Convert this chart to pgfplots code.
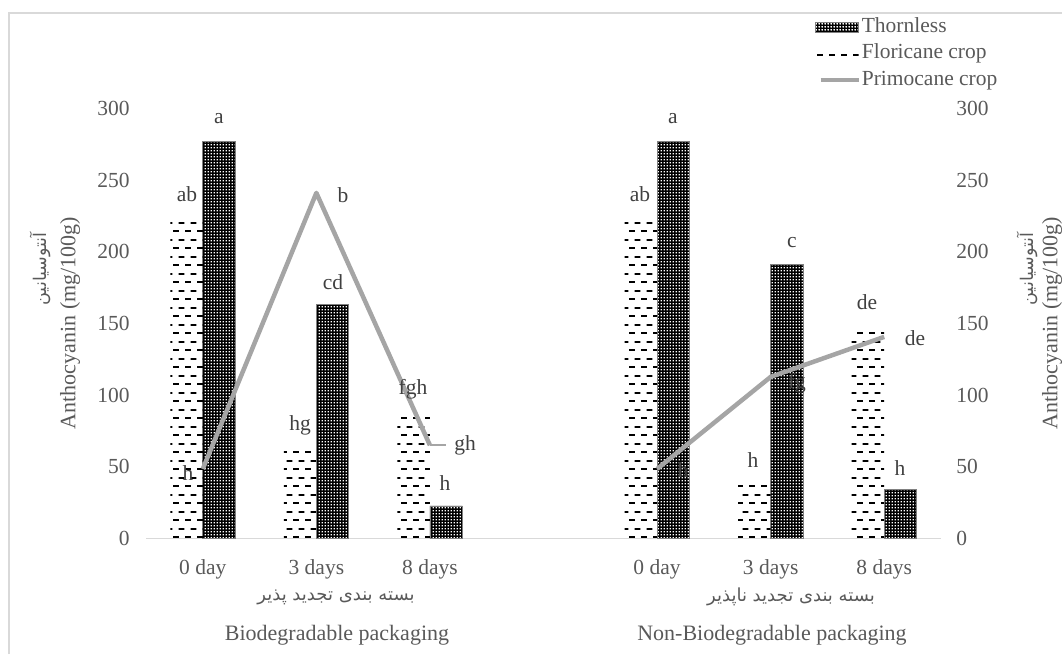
\documentclass[border=0pt]{standalone}
\usepackage{fontspec}
\setmainfont{Liberation Serif}
\newfontfamily\fa[Script=Arabic]{DejaVu Sans}
\usepackage{pgfplots}
\pgfplotsset{compat=1.18}
\usetikzlibrary{patterns}
\TeXXeTstate=1

\definecolor{txt}{HTML}{595959}
\definecolor{lbl}{HTML}{404040}
\definecolor{gridc}{HTML}{D9D9D9}
\definecolor{prim}{HTML}{A5A5A5}

\pgfdeclarepatternformonly{wdots}{\pgfqpoint{0pt}{0pt}}{\pgfqpoint{3.2pt}{3.2pt}}{\pgfqpoint{3.2pt}{3.2pt}}{%
  \pgfpathrectangle{\pgfqpoint{0.85pt}{0.85pt}}{\pgfqpoint{1.5pt}{1.5pt}}\pgfusepath{fill}}
\pgfdeclarepatternformonly{hdash}{\pgfqpoint{0pt}{0pt}}{\pgfqpoint{11.5pt}{16.6pt}}{\pgfqpoint{11.5pt}{16.6pt}}{%
  \pgfpathrectangle{\pgfqpoint{0pt}{0pt}}{\pgfqpoint{6pt}{1.8pt}}%
  \pgfpathrectangle{\pgfqpoint{5.75pt}{8.3pt}}{\pgfqpoint{6pt}{1.8pt}}\pgfusepath{fill}}

\pgfplotstableread{
x thornless floricane primocane
0 277   223   48.5
1 163   62.5  241
2 22.7  84.6  65
3 nan   nan   nan
4 277   223   48.5
5 191   40    112.7
6 34    146   140.6
}\datatable

\begin{document}
\begin{tikzpicture}[font=\fontsize{21.5}{25}\selectfont]
\path[use as bounding box] (0pt,0pt) rectangle (1062pt,654pt);
\draw[gridc, line width=1.5pt] (9pt,0pt) -- (9pt,641pt) -- (1062pt,641pt);

% right-hand tick labels
\begin{axis}[
  at={(146pt,115.5pt)}, anchor=south west, scale only axis,
  width=795pt, height=430.2pt,
  xmin=-0.5, xmax=6.5, ymin=0, ymax=300,
  axis x line=none, axis y line*=right,
  y axis line style={draw=none},
  /pgf/number format/assume math mode=true,
  ytick={0,50,...,300}, major tick length=0pt,
  yticklabel style={text=txt, font=\fontsize{21.5}{25}\selectfont, xshift=11.8pt},
]
\addplot[draw=none] coordinates {(0,0)};
\end{axis}

\begin{axis}[
  at={(146pt,115.5pt)}, anchor=south west, scale only axis,
  width=795pt, height=430.2pt,
  xmin=-0.5, xmax=6.5, ymin=0, ymax=300,
  axis x line*=bottom, axis y line*=left,
  x axis line style={gridc, line width=1.3pt, -},
  y axis line style={draw=none},
  /pgf/number format/assume math mode=true,
  ytick={0,50,...,300}, major tick length=0pt,
  xtick={0,1,2,4,5,6},
  xticklabels={0 day,3 days,8 days,0 day,3 days,8 days},
  yticklabel style={text=txt, font=\fontsize{21.5}{25}\selectfont, xshift=-12.8pt},
  xticklabel style={text=txt, font=\fontsize{21.5}{25}\selectfont, anchor=base, yshift=-35.5pt},
  unbounded coords=jump,
  legend cell align=left,
  legend style={at={(0.8415,1.215)}, anchor=north west, draw=none, fill=none,
    text=txt, font=\fontsize{21.5}{25}\selectfont, inner sep=0pt, row sep=4.5pt,
    nodes={inner sep=1pt, text height=15pt, text depth=5pt}},
]
\addplot[ybar, bar width=32.5pt, bar shift=16.25pt, fill=black, draw=gray, line width=0.8pt,
  postaction={pattern=wdots, pattern color=white},
  legend image code/.code={\draw[fill=black, draw=gray, line width=0.8pt, postaction={pattern=wdots, pattern color=white}] (0pt,-5pt) rectangle (43pt,5pt);}]
  table[x=x, y=thornless] {\datatable};
\addlegendentry{Thornless}
\addplot[ybar, bar width=32.5pt, bar shift=-16.25pt, draw=none, pattern=hdash, pattern color=black,
  legend image code/.code={\fill[pattern=hdash, pattern color=black] (0pt,-5pt) rectangle (43pt,5pt);}]
  table[x=x, y=floricane] {\datatable};
\addlegendentry{Floricane crop}
\addplot[prim, line width=4.5pt, line join=round, no markers,
  legend image code/.code={\draw[prim, line width=4.5pt] (5pt,0pt) -- (43pt,0pt);}]
  table[x=x, y=primocane] {\datatable};
\addlegendentry{Primocane crop}
\end{axis}

% data labels
\begin{scope}[every node/.style={text=lbl, font=\fontsize{21.5}{25}\selectfont, inner sep=0pt}]
\node at (187pt,460pt) {ab};
\node at (219pt,535pt) {a};
\node at (188pt,181pt) {h};
\node at (343pt,459pt) {b};
\node at (333pt,372pt) {cd};
\node at (300pt,229pt) {hg};
\node at (413pt,265pt) {fgh};
\draw[prim, line width=1.2pt] (430pt,209pt) -- (446pt,209pt);
\node at (465pt,209pt) {gh};
\node at (445pt,171pt) {h};
\node at (640pt,460pt) {ab};
\node at (673pt,535pt) {a};
\node at (683pt,184pt) {h};
\node at (792pt,411pt) {c};
\node at (753pt,194pt) {h};
\node at (797pt,271pt) {fg};
\node at (867pt,352pt) {de};
\node at (915pt,316pt) {de};
\node at (900pt,186pt) {h};
\end{scope}

% axis titles
\begin{scope}[every node/.style={text=txt, inner sep=0pt}]
\node[rotate=90, font=\fontsize{22}{26}\selectfont] at (70pt,331pt) {Anthocyanin (mg/100g)};
\node[rotate=90, font=\fa\fontsize{17.5}{20}\selectfont] at (40pt,385pt) {\beginR آنتوسیانین\endR};
\node[rotate=90, font=\fontsize{22}{26}\selectfont] at (1052pt,331pt) {Anthocyanin (mg/100g)};
\node[rotate=90, font=\fa\fontsize{17.5}{20}\selectfont] at (1027pt,385pt) {\beginR آنتوسیانین\endR};
% group labels
\node[font=\fa\fontsize{18}{21}\selectfont] at (336pt,57pt) {\beginR بسته بندی تجدید پذیر\endR};
\node[font=\fontsize{22}{26}\selectfont] at (337pt,19pt) {Biodegradable packaging};
\node[font=\fa\fontsize{18}{21}\selectfont] at (791pt,57pt) {\beginR بسته بندی تجدید ناپذیر\endR};
\node[font=\fontsize{22}{26}\selectfont] at (772pt,19pt) {Non-Biodegradable packaging};
\end{scope}
\end{tikzpicture}
\end{document}
